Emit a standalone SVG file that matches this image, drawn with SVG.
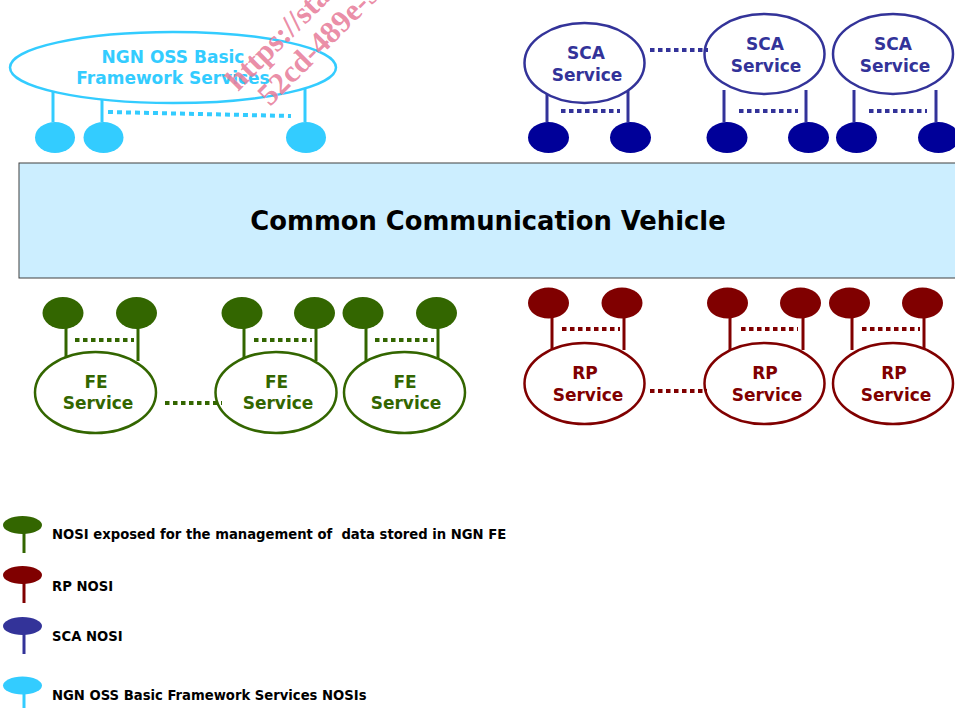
<svg xmlns="http://www.w3.org/2000/svg" width="955" height="708" viewBox="0 0 955 708">
<style>
.t{font-family:"DejaVu Sans",Verdana,sans-serif;font-weight:bold;font-size:17px;text-anchor:middle}
.big{stroke-width:2.5;fill:#fff}
.stem{stroke-width:3;fill:none}
.dots{stroke-width:4;stroke-dasharray:4.5 3.5;fill:none}
.cy{stroke:#33ccff}
.sca{stroke:#333399}
.fe{stroke:#336600}
.rp{stroke:#800000}
.leg{font-family:"DejaVu Sans",Verdana,sans-serif;font-weight:bold;font-size:13.2px;fill:#000;white-space:pre}
</style>
<rect width="955" height="708" fill="#fff"/>

<g id="ccv">
<rect x="19" y="163" width="945" height="115" fill="#cceeff" stroke="#404040" stroke-width="1"/>
<text x="488" y="230" style="font-family:'DejaVu Sans',Verdana,sans-serif;font-weight:bold;font-size:25.8px;text-anchor:middle" fill="#000">Common Communication Vehicle</text>
</g>

<g id="ngn-oss">
<line class="stem cy" x1="53" y1="91" x2="53" y2="122"/>
<line class="stem cy" x1="102" y1="99" x2="102" y2="122"/>
<line class="stem cy" x1="305" y1="89" x2="305" y2="122"/>
<line x1="108" y1="112" x2="291" y2="116" stroke="#33ccff" stroke-width="4" stroke-dasharray="5 4"/>
<ellipse class="big cy" cx="173" cy="67.5" rx="163" ry="35.5"/>
<text class="t" x="173" y="63" fill="#33ccff">NGN OSS Basic</text>
<text class="t" x="173" y="84" fill="#33ccff">Framework Services</text>
<g fill="#33ccff">
<ellipse cx="55" cy="137.5" rx="20" ry="15.5"/>
<ellipse cx="103.5" cy="137.5" rx="20" ry="15.5"/>
<ellipse cx="306" cy="137.5" rx="20" ry="15.5"/>
</g>
</g>

<g id="sca1">
<line class="stem sca" x1="547" y1="90" x2="547" y2="122"/>
<line class="stem sca" x1="628" y1="90" x2="628" y2="122"/>
<line class="dots sca" x1="561" y1="111" x2="620" y2="111"/>
<ellipse class="big sca" cx="584.5" cy="63" rx="60" ry="40"/>
<text class="t" x="586" y="59" fill="#333399">SCA</text>
<text class="t" x="587" y="81" fill="#333399">Service</text>
<ellipse cx="548.5" cy="137.5" rx="20.5" ry="15.5" fill="#000099"/>
<ellipse cx="630.5" cy="137.5" rx="20.5" ry="15.5" fill="#000099"/>
</g>
<g id="sca2">
<line class="stem sca" x1="724" y1="90" x2="724" y2="122"/>
<line class="stem sca" x1="806" y1="90" x2="806" y2="122"/>
<line class="dots sca" x1="739" y1="111" x2="798" y2="111"/>
<ellipse class="big sca" cx="764.5" cy="54" rx="60" ry="40"/>
<text class="t" x="765" y="50" fill="#333399">SCA</text>
<text class="t" x="766" y="72" fill="#333399">Service</text>
<ellipse cx="727" cy="137.5" rx="20.5" ry="15.5" fill="#000099"/>
<ellipse cx="808.5" cy="137.5" rx="20.5" ry="15.5" fill="#000099"/>
</g>
<g id="sca3">
<line class="stem sca" x1="854" y1="90" x2="854" y2="122"/>
<line class="stem sca" x1="936" y1="90" x2="936" y2="122"/>
<line class="dots sca" x1="869" y1="111" x2="927" y2="111"/>
<ellipse class="big sca" cx="893" cy="54" rx="60" ry="40"/>
<text class="t" x="893" y="50" fill="#333399">SCA</text>
<text class="t" x="895" y="72" fill="#333399">Service</text>
<ellipse cx="856.5" cy="137.5" rx="20.5" ry="15.5" fill="#000099"/>
<ellipse cx="938.5" cy="137.5" rx="20.5" ry="15.5" fill="#000099"/>
</g>

<g id="fe1">
<line class="stem fe" x1="66" y1="328" x2="66" y2="361"/>
<line class="stem fe" x1="138" y1="328" x2="138" y2="361"/>
<line class="dots fe" x1="75" y1="340" x2="134" y2="340"/>
<ellipse class="big fe" cx="95.5" cy="392.5" rx="60.5" ry="40.5"/>
<text class="t" x="96" y="388" fill="#336600">FE</text>
<text class="t" x="98" y="409" fill="#336600">Service</text>
<ellipse cx="63" cy="313" rx="20.5" ry="16" fill="#336600"/>
<ellipse cx="136.5" cy="313" rx="20.5" ry="16" fill="#336600"/>
</g>
<g id="fe2">
<line class="stem fe" x1="244" y1="328" x2="244" y2="361"/>
<line class="stem fe" x1="316" y1="328" x2="316" y2="361"/>
<line class="dots fe" x1="254" y1="340" x2="312" y2="340"/>
<ellipse class="big fe" cx="276" cy="392.5" rx="60.5" ry="40.5"/>
<text class="t" x="276.5" y="388" fill="#336600">FE</text>
<text class="t" x="278" y="409" fill="#336600">Service</text>
<ellipse cx="242" cy="313" rx="20.5" ry="16" fill="#336600"/>
<ellipse cx="314.5" cy="313" rx="20.5" ry="16" fill="#336600"/>
</g>
<g id="fe3">
<line class="stem fe" x1="366" y1="328" x2="366" y2="361"/>
<line class="stem fe" x1="438" y1="328" x2="438" y2="361"/>
<line class="dots fe" x1="375" y1="340" x2="434" y2="340"/>
<ellipse class="big fe" cx="404.5" cy="392.5" rx="60.5" ry="40.5"/>
<text class="t" x="405" y="388" fill="#336600">FE</text>
<text class="t" x="406" y="409" fill="#336600">Service</text>
<ellipse cx="363" cy="313" rx="20.5" ry="16" fill="#336600"/>
<ellipse cx="436.5" cy="313" rx="20.5" ry="16" fill="#336600"/>
</g>

<g id="rp1">
<line class="stem rp" x1="552" y1="317" x2="552" y2="350"/>
<line class="stem rp" x1="624" y1="317" x2="624" y2="350"/>
<line class="dots rp" x1="562" y1="329" x2="620" y2="329"/>
<ellipse class="big rp" cx="584.5" cy="383.5" rx="60" ry="40.5"/>
<text class="t" x="585" y="379" fill="#800000">RP</text>
<text class="t" x="588" y="401" fill="#800000">Service</text>
<ellipse cx="548.5" cy="303" rx="20.5" ry="15.5" fill="#800000"/>
<ellipse cx="622" cy="303" rx="20.5" ry="15.5" fill="#800000"/>
</g>
<g id="rp2">
<line class="stem rp" x1="730" y1="317" x2="730" y2="350"/>
<line class="stem rp" x1="803" y1="317" x2="803" y2="350"/>
<line class="dots rp" x1="741" y1="329" x2="798" y2="329"/>
<ellipse class="big rp" cx="764.5" cy="383.5" rx="60" ry="40.5"/>
<text class="t" x="765" y="379" fill="#800000">RP</text>
<text class="t" x="767" y="401" fill="#800000">Service</text>
<ellipse cx="727.5" cy="303" rx="20.5" ry="15.5" fill="#800000"/>
<ellipse cx="800.5" cy="303" rx="20.5" ry="15.5" fill="#800000"/>
</g>
<g id="rp3">
<line class="stem rp" x1="852" y1="317" x2="852" y2="350"/>
<line class="stem rp" x1="924" y1="317" x2="924" y2="350"/>
<line class="dots rp" x1="862" y1="329" x2="920" y2="329"/>
<ellipse class="big rp" cx="893" cy="383.5" rx="60" ry="40.5"/>
<text class="t" x="894" y="379" fill="#800000">RP</text>
<text class="t" x="896" y="401" fill="#800000">Service</text>
<ellipse cx="849.5" cy="303" rx="20.5" ry="15.5" fill="#800000"/>
<ellipse cx="922.5" cy="303" rx="20.5" ry="15.5" fill="#800000"/>
</g>

<g id="connectors">
<line class="dots sca" x1="650" y1="50" x2="708" y2="50"/>
<line class="dots fe" x1="165" y1="403" x2="222" y2="403"/>
<line class="dots rp" x1="650" y1="391" x2="707" y2="391"/>
</g>

<g id="legend">
<g id="legend-fe">
<line x1="24" y1="530" x2="24" y2="553" stroke="#336600" stroke-width="3"/>
<ellipse cx="22.5" cy="525" rx="19.5" ry="9" fill="#336600"/>
<text class="leg" x="52" y="539">NOSI exposed for the management of  data stored in NGN FE</text>
</g>
<g id="legend-rp">
<line x1="24" y1="580" x2="24" y2="603" stroke="#800000" stroke-width="3"/>
<ellipse cx="22.5" cy="575" rx="19.5" ry="9" fill="#800000"/>
<text class="leg" x="52" y="591">RP NOSI</text>
</g>
<g id="legend-sca">
<line x1="24" y1="630" x2="24" y2="654" stroke="#333399" stroke-width="3"/>
<ellipse cx="22.5" cy="626" rx="19.5" ry="9" fill="#333399"/>
<text class="leg" x="52" y="641">SCA NOSI</text>
</g>
<g id="legend-ngn">
<line x1="24" y1="690" x2="24" y2="710" stroke="#33ccff" stroke-width="3"/>
<ellipse cx="22.5" cy="685.5" rx="19.5" ry="9" fill="#33ccff"/>
<text class="leg" x="52" y="700">NGN OSS Basic Framework Services NOSIs</text>
</g>
</g>

<g id="watermark" fill="#e8809c" fill-opacity="0.9" style="font-family:'Liberation Serif','Times New Roman',serif;font-size:31px;font-weight:bold">
<text transform="translate(238,92) rotate(-45)">https://sta</text>
<text transform="translate(270,107) rotate(-45)">52cd-489e-9</text>
</g>
</svg>
